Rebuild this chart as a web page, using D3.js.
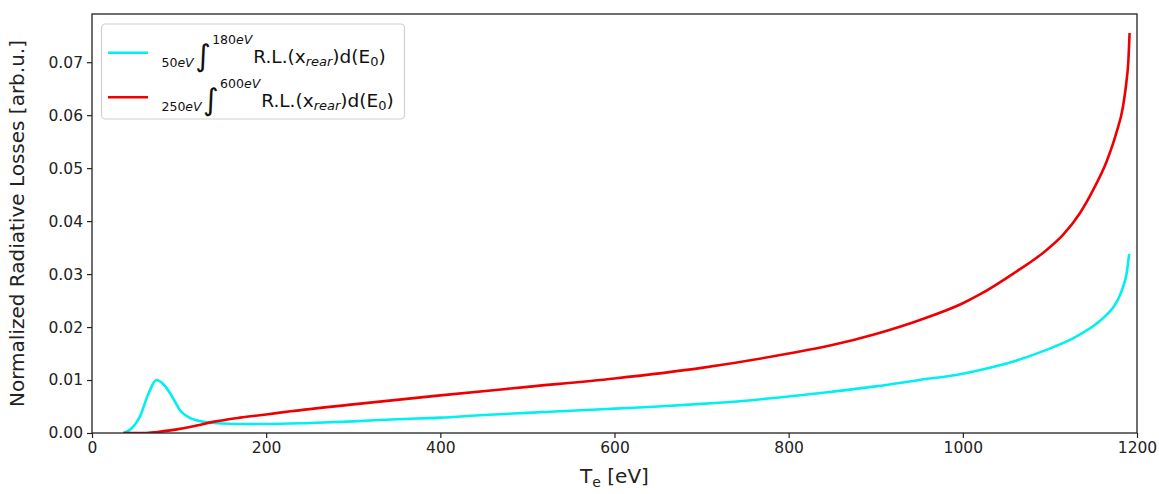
<!DOCTYPE html>
<html>
<head>
<meta charset="utf-8">
<script src="https://cdn.jsdelivr.net/npm/d3@7"></script>
<style>
  html, body { margin: 0; padding: 0; background: #fff; }
  svg { display: block; font-family: "DejaVu Sans", sans-serif; }
</style>
</head>
<body>
<svg id="chart" width="1159" height="494"></svg>
<script>
// ---- data ----
const cyanT = [36, 45, 55, 65, 74, 82, 89, 95, 101, 107, 113, 120, 128, 140, 151, 175, 200, 250, 300, 350, 400, 450, 500, 550, 600, 650, 700, 750, 800, 850, 900, 950, 1000, 1020, 1058, 1096, 1127, 1154, 1165, 1173, 1179, 1184, 1188, 1191];
const cyanV = [0.0000, 0.0008, 0.0031, 0.0075, 0.0100, 0.0092, 0.0077, 0.0060, 0.0043, 0.0034, 0.0028, 0.0024, 0.0021, 0.0019, 0.0018, 0.0017, 0.0017, 0.0019, 0.0022, 0.0026, 0.0029, 0.0034, 0.0038, 0.0042, 0.0046, 0.0050, 0.0055, 0.0061, 0.0069, 0.0078, 0.0088, 0.0100, 0.0112, 0.0119, 0.0135, 0.0157, 0.0179, 0.0207, 0.0223, 0.0238, 0.0255, 0.0276, 0.0300, 0.0338];
const redT = [36, 60, 75, 90, 105, 120, 139, 170, 200, 228, 300, 400, 500, 600, 700, 800, 850, 900, 950, 1000, 1020, 1058, 1092, 1115, 1134, 1150, 1165, 1176, 1184, 1188, 1190, 1191.5];
const redV = [0.0000, 0.0000, 0.0002, 0.0005, 0.0009, 0.0014, 0.0021, 0.0029, 0.0035, 0.0041, 0.0054, 0.0071, 0.0087, 0.0103, 0.0123, 0.0150, 0.0166, 0.0187, 0.0213, 0.0245, 0.0262, 0.0301, 0.0340, 0.0374, 0.0414, 0.0460, 0.0512, 0.0565, 0.0617, 0.0665, 0.0700, 0.0755];
const xTicks = [0, 200, 400, 600, 800, 1000, 1200];
const yTicks = [0.00, 0.01, 0.02, 0.03, 0.04, 0.05, 0.06, 0.07];
const xLabel = "T";
const yLabel = "Normalized Radiative Losses [arb.u.]";

const seriesList = [
  { name: "cyan", color: "#00f0f0", t: cyanT, v: cyanV, lo: "50eV", hi: "180eV" },
  { name: "red",  color: "#ee0000", t: redT,  v: redV,  lo: "250eV", hi: "600eV" }
];

// ---- layout ----
const svg = d3.select("#chart");
const L = 92, T = 14, R = 1137, B = 433;
const x = d3.scaleLinear().domain([0, 1200]).range([L, R]);
const y = d3.scaleLinear().domain([0, 0.0791]).range([B, T]);

// lines
const line = d3.line().x(d => x(d[0])).y(d => y(d[1])).curve(d3.curveMonotoneX);
svg.append("clipPath").attr("id", "clip").append("rect")
  .attr("x", L).attr("y", T).attr("width", R - L).attr("height", B - T);
const plot = svg.append("g").attr("clip-path", "url(#clip)");
seriesList.forEach(s => {
  plot.append("path")
    .datum(s.t.map((t, i) => [t, s.v[i]]))
    .attr("fill", "none")
    .attr("stroke", s.color)
    .attr("stroke-width", 2.6)
    .attr("stroke-linejoin", "round")
    .attr("d", line);
});

// axes
const xAxis = d3.axisBottom(x).tickValues(xTicks).tickFormat(d3.format("d")).tickSize(5).tickPadding(4);
const yAxis = d3.axisLeft(y).tickValues(yTicks).tickFormat(d3.format(".2f")).tickSize(5).tickPadding(4);
const gx = svg.append("g").attr("transform", `translate(0,${B})`).call(xAxis);
const gy = svg.append("g").attr("transform", `translate(${L},0)`).call(yAxis);
[gx, gy].forEach(g => {
  g.select(".domain").remove();
  g.selectAll("line").attr("stroke", "#222").attr("stroke-width", 1.2);
  g.selectAll("text").attr("font-size", 15.5).attr("fill", "#222").attr("font-family", "DejaVu Sans");
});

// frame
svg.append("rect").attr("x", L).attr("y", T).attr("width", R - L).attr("height", B - T)
  .attr("fill", "none").attr("stroke", "#222").attr("stroke-width", 1.3);

// axis labels
const xl = svg.append("text").attr("x", (L + R) / 2).attr("y", 483)
  .attr("text-anchor", "middle").attr("font-size", 20).attr("fill", "#222");
xl.append("tspan").text(xLabel);
xl.append("tspan").attr("font-size", 14).attr("dy", 4).text("e");
xl.append("tspan").attr("dy", -4).text(" [eV]");

svg.append("text")
  .attr("transform", `translate(24,${(T + B) / 2}) rotate(-90)`)
  .attr("text-anchor", "middle").attr("font-size", 20).attr("fill", "#222")
  .text(yLabel);

// legend
const lg = svg.append("g");
lg.append("rect").attr("x", 101.5).attr("y", 24).attr("width", 303).attr("height", 95)
  .attr("rx", 4).attr("fill", "#fff").attr("fill-opacity", 0.8)
  .attr("stroke", "#d0d0d0").attr("stroke-width", 1.2);
seriesList.forEach((s, i) => {
  const cy = 52.7 + i * 44.6;
  const base = 63.3 + i * 44;
  lg.append("line").attr("x1", 108).attr("x2", 148).attr("y1", cy).attr("y2", cy)
    .attr("stroke", s.color).attr("stroke-width", 2.6);
  // subscript lower limit
  const sub = lg.append("text").attr("x", 161.5).attr("y", base + 3.5).attr("font-size", 12.5).attr("fill", "#111");
  sub.append("tspan").text(s.lo.replace("eV", ""));
  sub.append("tspan").attr("font-style", "italic").text("eV");
  const subW = sub.node().getComputedTextLength();
  const ix = 161.5 + subW + 1.5;
  lg.append("text").attr("x", ix).attr("y", base + 3).attr("font-size", 30).attr("fill", "#111").text("\u222B");
  const sup = lg.append("text").attr("x", ix + 17).attr("y", base - 19).attr("font-size", 12.5).attr("fill", "#111");
  sup.append("tspan").text(s.hi.replace("eV", ""));
  sup.append("tspan").attr("font-style", "italic").text("eV");
  const supW = sup.node().getComputedTextLength();
  const mt = lg.append("text").attr("x", ix + 17 + supW + 1).attr("y", base).attr("font-size", 18.5).attr("fill", "#111");
  mt.append("tspan").text("R.L.(x");
  mt.append("tspan").attr("font-size", 13).attr("font-style", "italic").attr("dy", 3).text("rear");
  mt.append("tspan").attr("dy", -3).text(")d(E");
  mt.append("tspan").attr("font-size", 13).attr("dy", 3).text("0");
  mt.append("tspan").attr("dy", -3).text(")");
});
</script>
</body>
</html>
